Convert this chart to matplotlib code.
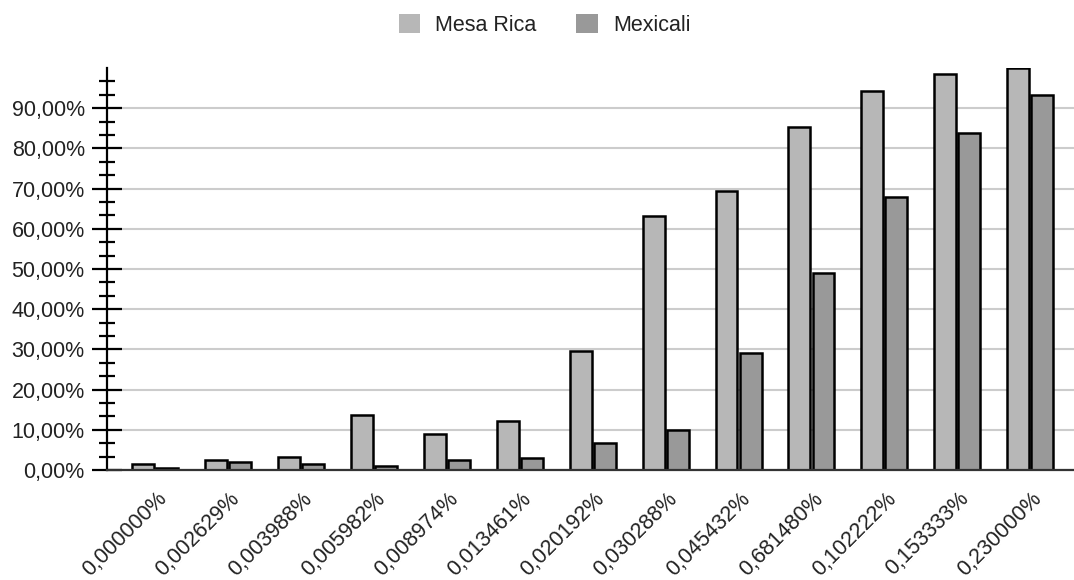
import numpy as np
import matplotlib
matplotlib.use("Agg")
import matplotlib.pyplot as plt
import matplotlib.transforms as mtransforms
from matplotlib.ticker import FixedLocator, FuncFormatter

plt.rcParams['font.family'] = ['Liberation Sans', 'DejaVu Sans']

categories = ['0,000000%', '0,002629%', '0,003988%', '0,005982%', '0,008974%',
              '0,013461%', '0,020192%', '0,030288%', '0,045432%', '0,681480%',
              '0,102222%', '0,153333%', '0,230000%']
mesa_rica = [1.5, 2.5, 3.3, 13.8, 9.0, 12.3, 29.7, 63.3, 69.3, 85.4, 94.3, 98.6, 100.0]
mexicali = [0.5, 1.9, 1.5, 1.0, 2.4, 2.9, 6.6, 10.0, 29.2, 49.1, 67.8, 83.9, 93.3]
y_major = [0, 10, 20, 30, 40, 50, 60, 70, 80, 90]

fig = plt.figure(figsize=(10.74, 5.8), dpi=100)
ax = fig.add_axes([107 / 1074, 110 / 580, 1 - 107 / 1074, 402 / 580])

x = np.arange(len(categories))
w = 0.3
ax.bar(x - 0.165, mesa_rica, w, color='#b7b7b7', edgecolor='black', linewidth=1.8,
       label='Mesa Rica', zorder=3)
ax.bar(x + 0.165, mexicali, w, color='#999999', edgecolor='black', linewidth=1.8,
       label='Mexicali', zorder=3)

ax.set_xlim(-0.66, 12.6)
ax.set_ylim(0, 100)
ax.yaxis.set_major_locator(FixedLocator(y_major))
minor = [m + k * 10 / 3 for m in y_major for k in (1, 2)]
ax.yaxis.set_minor_locator(FixedLocator(minor))
ax.yaxis.set_major_formatter(FuncFormatter(lambda v, p: ('%.2f%%' % v).replace('.', ',')))
ax.grid(axis='y', color='#cccccc', linewidth=1.5, zorder=0)

for s in ['top', 'right']:
    ax.spines[s].set_visible(False)
ax.spines['left'].set_linewidth(1.6)
ax.spines['bottom'].set_color('#333333')
ax.spines['bottom'].set_linewidth(1.6)
ax.spines['bottom'].set_zorder(4)

ax.tick_params(axis='y', which='major', direction='inout', length=22, width=1.6,
               labelsize=15.5, labelcolor='#222222', pad=5)
ax.tick_params(axis='y', which='minor', direction='inout', length=11, width=1.6)
ax.tick_params(axis='x', length=0, labelsize=15.5, labelcolor='#222222', pad=6)

ax.set_xticks(x)
ax.set_xticklabels(categories, rotation=45, ha='right', va='top', rotation_mode='anchor')
offset = mtransforms.ScaledTranslation(1 / 100, -10 / 100, fig.dpi_scale_trans)
for lab in ax.get_xticklabels():
    lab.set_transform(lab.get_transform() + offset)

leg = fig.legend(loc='upper center', bbox_to_anchor=(0.507, 1.01), ncol=2, frameon=False,
                 fontsize=15.5, handlelength=1.0, handleheight=1.0, columnspacing=1.85,
                 handletextpad=0.7)
for h in leg.legend_handles:
    h.set_edgecolor('none')
for t in leg.get_texts():
    t.set_color('#222222')

fig.savefig('out.png', dpi=100)
